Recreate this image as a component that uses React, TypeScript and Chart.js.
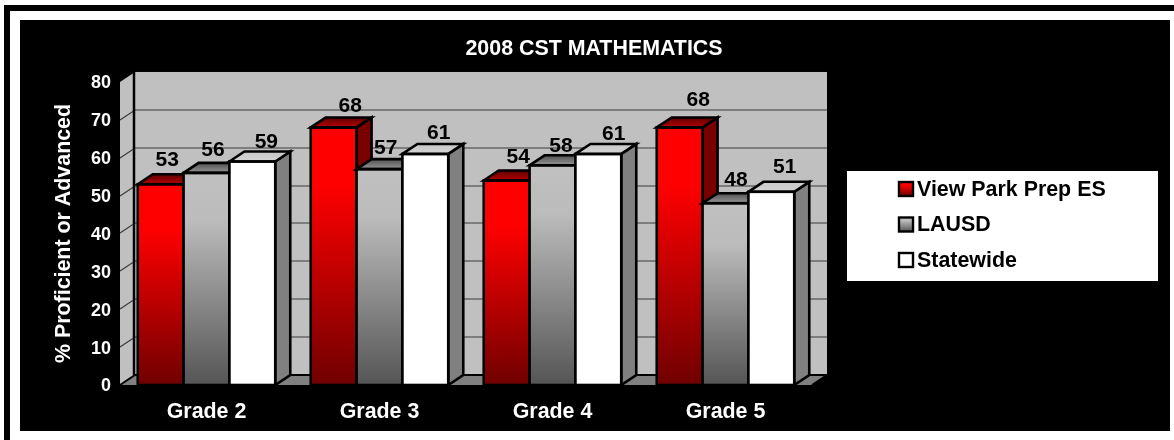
import React, { useEffect, useRef } from "react";
import { Chart, registerables } from "chart.js";

Chart.register(...registerables);

const categories = ["Grade 2", "Grade 3", "Grade 4", "Grade 5"];
const viewPark = [53, 68, 54, 68];
const lausd = [56, 57, 58, 48];
const statewide = [59, 61, 61, 51];
const yTicks = [0, 10, 20, 30, 40, 50, 60, 70, 80];

const FONT = "'Liberation Sans', Arial, sans-serif";
const DX = 15;
const DY = 10;

const LEGEND_BOX = { left: 847, top: 171, right: 1158, bottom: 281 };

// Hand-placed value labels: offset from each bar's front-top centre.
const labelShiftX = [
  [6.6, 16.6, 11.6, 18.6],
  [6.5, 6.2, 8.5, 10.5],
  [14, 13.4, 15.4, 13.4],
];
const labelShiftY = [
  [-24.3, -21.4, -23.5, -27.4],
  [-22.9, -21.1, -19.3, -23.2],
  [-19.8, -21, -20, -24.8],
];

type Look = {
  front: [number, string][];
  topFace: [string, string];
  side: string;
};
const looks: Look[] = [
  {
    front: [[0, "#ff0000"], [0.22, "#ff0000"], [1, "#700000"]],
    topFace: ["#5c0000", "#b80000"],
    side: "#7a0000",
  },
  {
    front: [[0, "#c0c0c0"], [0.22, "#bcbcbc"], [1, "#555555"]],
    topFace: ["#505050", "#969696"],
    side: "#606060",
  },
  {
    front: [[0, "#ffffff"], [1, "#ffffff"]],
    topFace: ["#c8c8c8", "#d4d4d4"],
    side: "#808080",
  },
];

function frontFill(look: Look) {
  return (c: any) => {
    const chart = c.chart;
    if (!chart.chartArea || c.raw === undefined) return look.front[0][1];
    const y = chart.scales.y;
    const g = chart.ctx.createLinearGradient(0, y.getPixelForValue(c.raw), 0, y.getPixelForValue(0));
    look.front.forEach(([p, col]) => g.addColorStop(p, col));
    return g;
  };
}

function drawBarFaces(chart: any, index: number) {
  const look = looks[index];
  const ctx = chart.ctx;
  ctx.save();
  chart.getDatasetMeta(index).data.forEach((el: any) => {
    const l = el.x - el.width / 2;
    const r = el.x + el.width / 2;
    const t = el.y;
    const b = el.base;
    ctx.strokeStyle = "#000000";
    ctx.lineWidth = 2.6;
    ctx.lineJoin = "miter";
    // side face
    ctx.fillStyle = look.side;
    ctx.beginPath();
    ctx.moveTo(r, t);
    ctx.lineTo(r + DX, t - DY);
    ctx.lineTo(r + DX, b - DY);
    ctx.lineTo(r, b);
    ctx.closePath();
    ctx.fill();
    ctx.stroke();
    // top face
    const g = ctx.createLinearGradient(0, t - DY, 0, t);
    g.addColorStop(0, look.topFace[0]);
    g.addColorStop(1, look.topFace[1]);
    ctx.fillStyle = g;
    ctx.beginPath();
    ctx.moveTo(l, t);
    ctx.lineTo(l + DX, t - DY);
    ctx.lineTo(r + DX, t - DY);
    ctx.lineTo(r, t);
    ctx.closePath();
    ctx.fill();
    ctx.stroke();
    // front outline
    ctx.strokeRect(l, t, r - l, b - t);
  });
  ctx.restore();
}

const scene = {
  id: "scene",
  afterLayout(chart: any) {
    const t = chart.titleBlock;
    if (t) {
      t.left = 20;
      t.right = 1168;
    }
  },
  beforeDraw(chart: any) {
    const ctx = chart.ctx;
    ctx.save();
    ctx.fillStyle = "#ffffff";
    ctx.fillRect(0, 0, 1174, 440);
    ctx.fillStyle = "#000000";
    ctx.fillRect(4, 5, 1170, 6);
    ctx.fillRect(4, 5, 6, 435);
    ctx.fillRect(20, 20, 1150, 411);
    ctx.restore();
  },
  beforeDatasetsDraw(chart: any) {
    const ctx = chart.ctx;
    const { left, right, top, bottom } = chart.chartArea;
    const y = chart.scales.y;
    ctx.save();
    // back wall, side wall, floor
    ctx.fillStyle = "#c0c0c0";
    ctx.fillRect(left + DX, top - DY, right - left, bottom - top);
    ctx.beginPath();
    ctx.moveTo(left, top);
    ctx.lineTo(left + DX, top - DY);
    ctx.lineTo(left + DX, bottom - DY);
    ctx.lineTo(left, bottom);
    ctx.closePath();
    ctx.fill();
    ctx.fillStyle = "#808080";
    ctx.beginPath();
    ctx.moveTo(left, bottom);
    ctx.lineTo(left + DX, bottom - DY);
    ctx.lineTo(right + DX, bottom - DY);
    ctx.lineTo(right, bottom);
    ctx.closePath();
    ctx.fill();
    // grid
    ctx.strokeStyle = "#3a3a3a";
    ctx.lineWidth = 1.2;
    yTicks.slice(1, -1).forEach((v) => {
      const py = Math.round(y.getPixelForValue(v));
      ctx.beginPath();
      ctx.moveTo(left, py);
      ctx.lineTo(left + DX, py - DY);
      ctx.lineTo(right + DX, py - DY);
      ctx.stroke();
    });
    // edges
    ctx.strokeStyle = "#000000";
    ctx.lineWidth = 2;
    ctx.beginPath();
    ctx.moveTo(left, bottom);
    ctx.lineTo(left + DX, bottom - DY);
    ctx.lineTo(right + DX, bottom - DY);
    ctx.stroke();
    ctx.beginPath();
    ctx.moveTo(right, bottom);
    ctx.lineTo(right + DX, bottom - DY);
    ctx.stroke();
    ctx.lineWidth = 2.5;
    ctx.beginPath();
    ctx.moveTo(left + DX - 1, top - DY);
    ctx.lineTo(left + DX - 1, bottom - DY);
    ctx.stroke();
    ctx.restore();
  },
  // The library paints datasets last-to-first; a 3D row needs first-to-last.
  beforeDatasetDraw() {
    return false;
  },
  afterDatasetsDraw(chart: any) {
    const ctx = chart.ctx;
    chart.data.datasets.forEach((_: any, i: number) => {
      chart.getDatasetMeta(i).controller.draw();
      drawBarFaces(chart, i);
    });
    ctx.save();
    ctx.fillStyle = "#000000";
    ctx.font = `bold 21px ${FONT}`;
    ctx.textAlign = "center";
    ctx.textBaseline = "middle";
    chart.data.datasets.forEach((ds: any, i: number) => {
      chart.getDatasetMeta(i).data.forEach((el: any, j: number) => {
        ctx.fillText(String(ds.data[j]), el.x + labelShiftX[i][j], el.y + labelShiftY[i][j]);
      });
    });
    ctx.restore();
  },
  afterDraw(chart: any) {
    const ctx = chart.ctx;
    ctx.save();
    ctx.fillStyle = "#ffffff";
    ctx.fillRect(
      LEGEND_BOX.left,
      LEGEND_BOX.top,
      LEGEND_BOX.right - LEGEND_BOX.left,
      LEGEND_BOX.bottom - LEGEND_BOX.top
    );
    ctx.font = `bold 21.4px ${FONT}`;
    ctx.textAlign = "left";
    ctx.textBaseline = "middle";
    chart.data.datasets.forEach((ds: any, i: number) => {
      const look = looks[i];
      const cy = 189 + i * 35.5;
      const g = ctx.createLinearGradient(0, cy - 7, 0, cy + 7);
      look.front.forEach(([p, col]) => g.addColorStop(p, col));
      ctx.fillStyle = g;
      ctx.strokeStyle = "#000000";
      ctx.lineWidth = 2.4;
      ctx.fillRect(899, cy - 7, 14, 14);
      ctx.strokeRect(899, cy - 7, 14, 14);
      ctx.fillStyle = "#000000";
      ctx.fillText(ds.label, 917, cy + 1);
    });
    ctx.restore();
  },
};

export default function App() {
  const ref = useRef<HTMLCanvasElement | null>(null);

  useEffect(() => {
    document.body.style.margin = "0";
    document.body.style.background = "#ffffff";
    const chart = new Chart(ref.current as HTMLCanvasElement, {
      type: "bar",
      data: {
        labels: categories,
        datasets: [
          { label: "View Park Prep ES", data: viewPark, backgroundColor: frontFill(looks[0]) },
          { label: "LAUSD", data: lausd, backgroundColor: frontFill(looks[1]) },
          { label: "Statewide", data: statewide, backgroundColor: frontFill(looks[2]) },
        ] as any,
      },
      plugins: [scene],
      options: {
        responsive: false,
        animation: false,
        layout: { padding: { left: 51, right: 362, top: 20, bottom: 9 } },
        datasets: { bar: { barPercentage: 1, categoryPercentage: 0.795, borderWidth: 0 } },
        plugins: {
          title: {
            display: true,
            text: "2008 CST MATHEMATICS",
            color: "#ffffff",
            font: { family: FONT, size: 21.4, weight: "bold" },
            padding: { top: 16, bottom: 20.3 },
          },
          legend: { display: false },
          tooltip: { enabled: false },
        },
        scales: {
          x: {
            grid: { display: false, drawTicks: false },
            border: { display: false },
            ticks: {
              color: "#ffffff",
              font: { family: FONT, size: 21.4, weight: "bold" },
              padding: 14,
              maxRotation: 0,
            },
            afterFit: (s: any) => {
              s.height = 46;
            },
          },
          y: {
            min: yTicks[0],
            max: yTicks[yTicks.length - 1],
            grid: { display: false, drawTicks: false },
            border: { display: false },
            ticks: {
              color: "#ffffff",
              stepSize: 10,
              font: { family: FONT, size: 18, weight: "bold" },
              padding: 9,
              labelOffset: 1.5,
            },
            title: {
              display: true,
              text: "% Proficient or Advanced",
              color: "#ffffff",
              font: { family: FONT, size: 21.4, weight: "bold" },
              padding: 0,
            },
            afterFit: (s: any) => {
              s.width = 69;
            },
          },
        },
      } as any,
    });
    return () => chart.destroy();
  }, []);

  return <canvas ref={ref} width={1174} height={440} style={{ display: "block" }} />;
}
